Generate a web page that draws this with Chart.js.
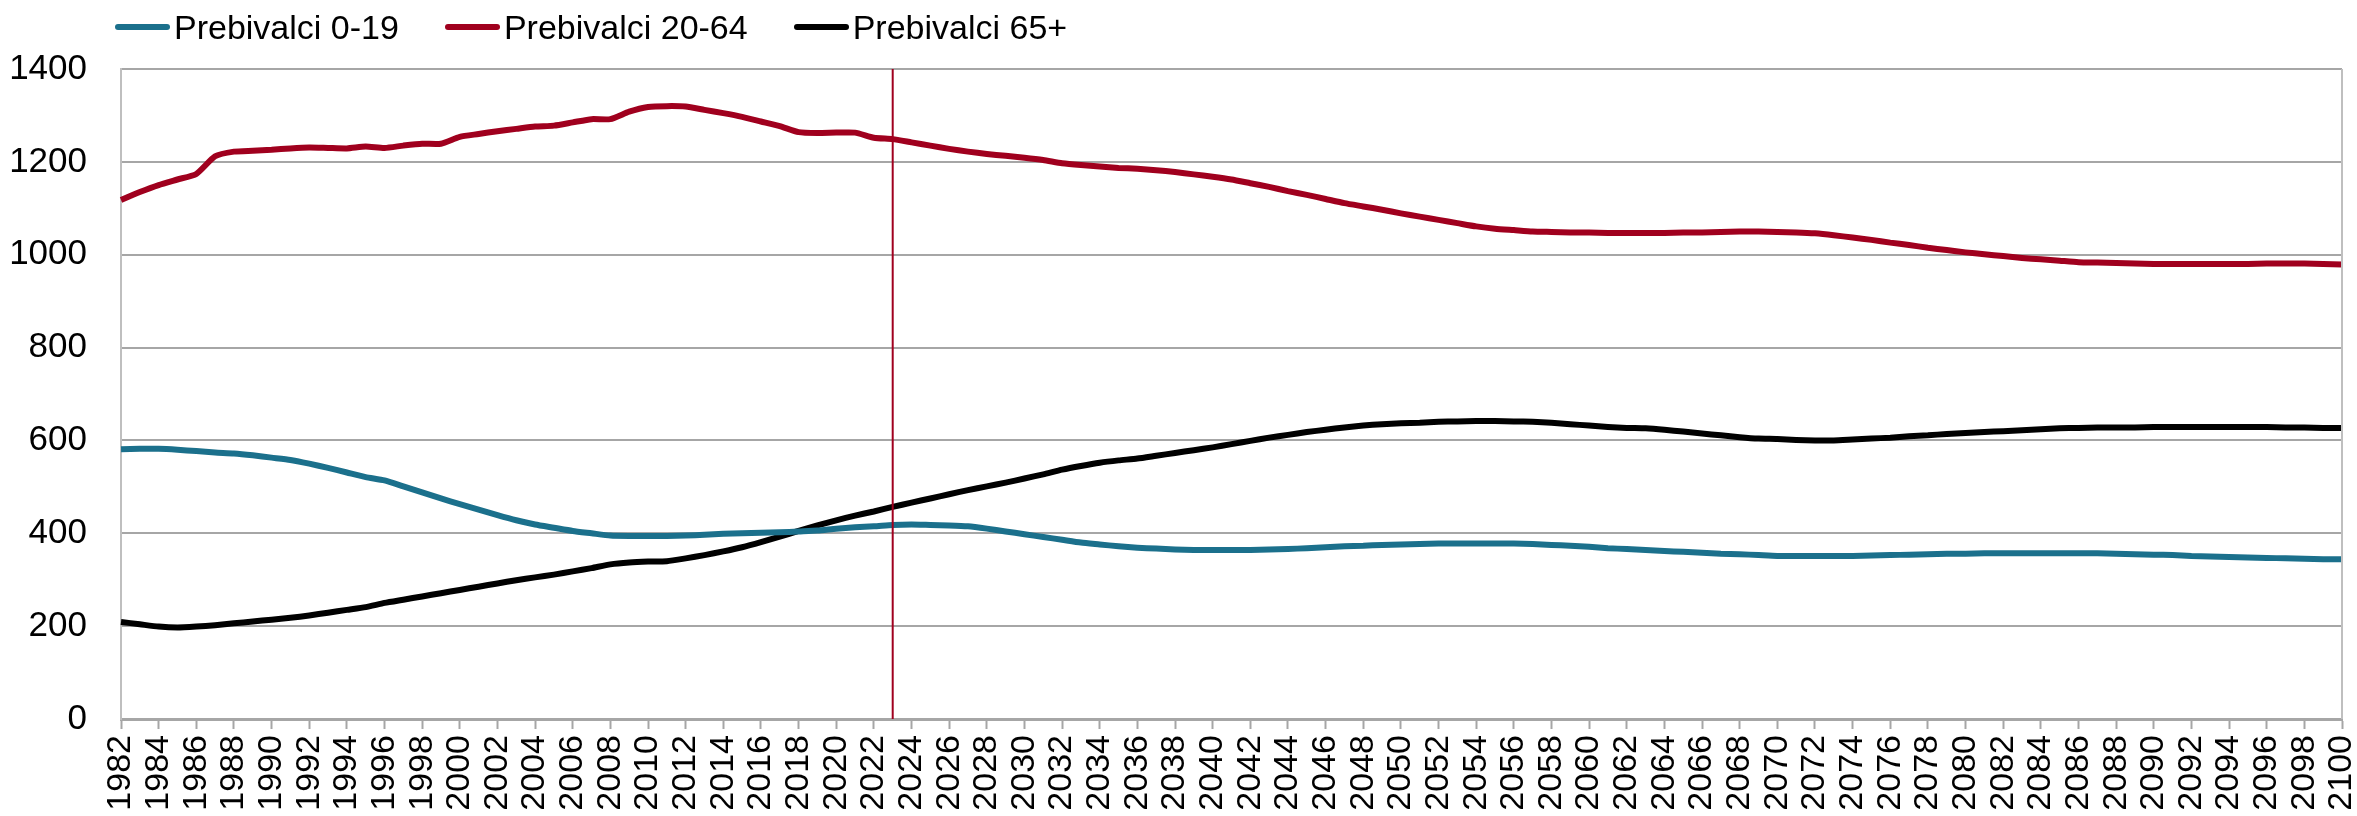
<!DOCTYPE html>
<html>
<head>
<meta charset="utf-8">
<script src="https://cdn.jsdelivr.net/npm/chart.js@4"></script>
<style>
  body { margin:0; background:#fff; }
  #wrap { position:relative; width:2357px; height:816px; }
  #legend { position:absolute; left:115px; top:7px; display:flex; font-family:"Liberation Sans", Arial, sans-serif; font-size:34px; line-height:40px; color:#000; }
  #legend .item { display:flex; align-items:center; margin-right:46px; }
  #legend .swatch { width:55px; height:6px; border-radius:3px; margin-right:4px; }
</style>
</head>
<body>
<div id="wrap">
  <canvas id="chart"></canvas>
  <div id="legend"></div>
</div>
<script>
const years = [
  1982,1983,1984,1985,1986,1987,1988,1989,1990,1991,
  1992,1993,1994,1995,1996,1997,1998,1999,2000,2001,
  2002,2003,2004,2005,2006,2007,2008,2009,2010,2011,
  2012,2013,2014,2015,2016,2017,2018,2019,2020,2021,
  2022,2023,2024,2025,2026,2027,2028,2029,2030,2031,
  2032,2033,2034,2035,2036,2037,2038,2039,2040,2041,
  2042,2043,2044,2045,2046,2047,2048,2049,2050,2051,
  2052,2053,2054,2055,2056,2057,2058,2059,2060,2061,
  2062,2063,2064,2065,2066,2067,2068,2069,2070,2071,
  2072,2073,2074,2075,2076,2077,2078,2079,2080,2081,
  2082,2083,2084,2085,2086,2087,2088,2089,2090,2091,
  2092,2093,2094,2095,2096,2097,2098,2099,2100
];

// prebivalci 0-19 (v tisoč)
const pop0_19 = [
  581,582,582,580,577,574,572,568,563,558,
  550,541,531,521,514,501,488,475,463,451,
  439,428,419,412,405,400,395,394,394,394,
  395,397,399,400,401,402,404,406,410,413,
  415,418,419,418,417,415,410,404,398,392,
  386,380,376,372,369,367,365,364,364,364,
  364,365,366,368,370,372,373,375,376,377,
  378,378,378,378,378,377,375,373,371,368,
  366,364,362,360,358,356,355,353,351,351,
  351,351,351,352,353,354,355,356,356,357,
  357,357,357,357,357,357,356,355,354,353,
  351,350,349,348,347,346,345,344,344
];

// prebivalci 20-64
const pop20_64 = [
  1118,1135,1150,1162,1174,1212,1222,1224,1226,1229,
  1231,1230,1229,1233,1230,1235,1239,1239,1254,1260,
  1266,1271,1276,1278,1285,1292,1292,1308,1318,1320,
  1319,1312,1305,1297,1287,1277,1264,1262,1263,1263,
  1252,1249,1242,1235,1228,1222,1217,1213,1209,1204,
  1197,1193,1190,1187,1185,1182,1178,1173,1168,1162,
  1154,1146,1137,1129,1120,1111,1104,1097,1089,1082,
  1075,1068,1061,1056,1053,1050,1049,1048,1048,1047,
  1047,1047,1047,1048,1048,1049,1050,1050,1049,1048,
  1046,1042,1037,1032,1026,1021,1015,1010,1005,1001,
  997,993,990,987,984,983,982,981,980,980,
  980,980,980,980,981,981,981,980,979
];

// prebivalci 65+
const pop65 = [
  209,204,199,197,199,202,206,210,214,218,
  223,229,235,241,250,257,264,271,278,285,
  292,299,305,311,318,325,333,337,339,340,
  346,353,361,370,381,393,405,417,428,438,
  447,457,466,475,484,493,501,509,518,527,
  537,545,552,557,561,567,573,579,585,592,
  599,606,612,618,623,628,632,635,637,638,
  640,641,642,642,641,640,638,635,632,629,
  627,626,623,619,615,611,607,604,603,601,
  600,600,602,604,606,609,611,614,616,618,
  620,622,624,626,627,628,628,628,629,629,
  629,629,629,629,629,628,628,627,627
];

const seriesNames = ['Prebivalci 0-19', 'Prebivalci 20-64', 'Prebivalci 65+'];
const seriesColors = ['#1b708c', '#a0001e', '#000000'];
const yMin = 0, yMax = 1400, yStep = 200;
const markerYear = 2023;

const FONT = '"Liberation Sans", Arial, sans-serif';
const GRID = '#a6a6a6';

const markerLine = {
  id: 'markerLine',
  afterDatasetsDraw(c) {
    const {ctx, chartArea, scales} = c;
    const x = scales.x.getPixelForValue(years.indexOf(markerYear));
    ctx.save();
    ctx.strokeStyle = '#a0001e';
    ctx.lineWidth = 2;
    ctx.beginPath();
    ctx.moveTo(x, chartArea.top);
    ctx.lineTo(x, chartArea.bottom);
    ctx.stroke();
    // desni rob
    ctx.strokeStyle = '#bfbfbf';
    ctx.beginPath();
    ctx.moveTo(chartArea.right, chartArea.top);
    ctx.lineTo(chartArea.right, chartArea.bottom);
    ctx.stroke();
    ctx.restore();
  }
};

const data = [pop0_19, pop20_64, pop65];
const datasets = data.map((d, i) => ({
  label: seriesNames[i],
  data: d,
  borderColor: seriesColors[i],
  backgroundColor: seriesColors[i],
  borderWidth: 6,
  pointRadius: 0,
  tension: 0.2,
  fill: false
}));

const ctx = document.getElementById('chart').getContext('2d');
const chart = new Chart(ctx, {
  type: 'line',
  data: { labels: years, datasets },
  options: {
    responsive: true,
    maintainAspectRatio: false,
    animation: false,
    layout: { padding: { top: 69, right: 15, left: 0, bottom: 0 } },
    plugins: { legend: { display: false }, tooltip: { enabled: false } },
    scales: {
      x: {
        offset: false,
        afterFit: s => { s.height = 97; s.paddingLeft = 0; s.paddingRight = 0; },
        grid: { drawOnChartArea: false, drawTicks: true, tickLength: 10, tickColor: GRID, tickWidth: 2 },
        border: { color: GRID, width: 3 },
        ticks: {
          autoSkip: false, minRotation: 90, maxRotation: 90, padding: 6,
          color: '#000', font: { family: FONT, size: 34 },
          callback: function(v, i) { return i % 2 === 0 ? this.getLabelForValue(v) : null; }
        }
      },
      y: {
        min: yMin, max: yMax,
        afterFit: s => { s.width = 121; },
        grid: { color: GRID, lineWidth: 2, drawTicks: false },
        border: { color: '#bfbfbf', width: 2 },
        ticks: { stepSize: yStep, padding: 34, color: '#000', font: { family: FONT, size: 35 },
          callback: v => String(v) }
      }
    }
  },
  plugins: [markerLine]
});

document.getElementById('legend').innerHTML = seriesNames.map((n, i) =>
  `<div class="item"><span class="swatch" style="background:${seriesColors[i]}"></span><span>${n}</span></div>`
).join('');
</script>
</body>
</html>
